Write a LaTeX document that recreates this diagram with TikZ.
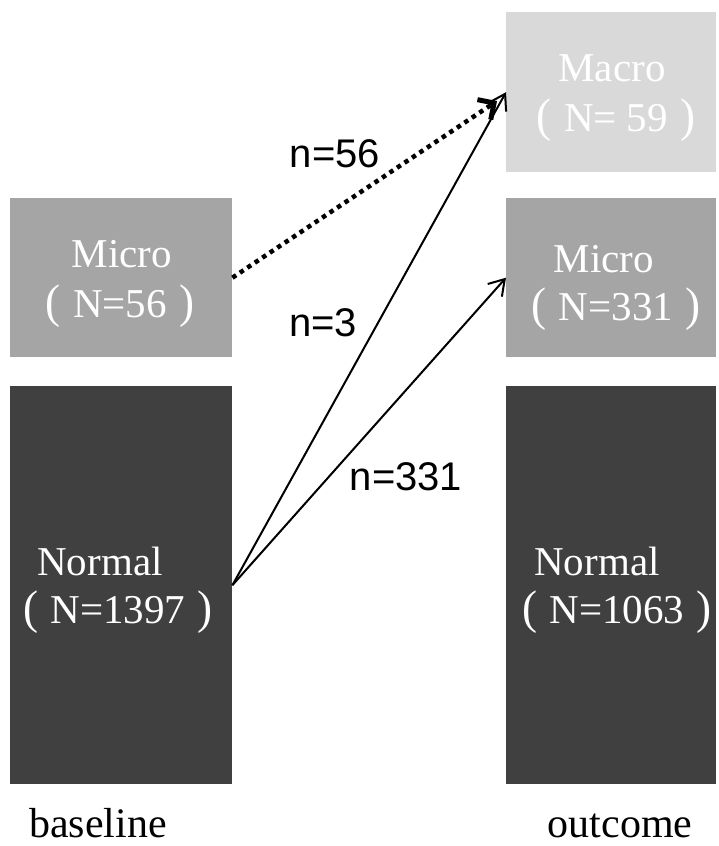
\documentclass[tikz,border=0pt]{standalone}
\usepackage{fontspec}
\setmainfont{Liberation Serif}
\newfontfamily\labelfont{Liberation Sans}
\usetikzlibrary{arrows.meta}
\definecolor{cmicro}{HTML}{A5A5A5}
\definecolor{cmacro}{HTML}{D9D9D9}
\definecolor{cnormal}{HTML}{404040}
\newcommand{\lp}{\scalebox{1.1}[1.15]{(}\hspace{0.3em}}
\newcommand{\rp}{\hspace{0.3em}\scalebox{1.1}[1.15]{)}}
\tikzset{
  box/.style={rectangle, inner sep=0pt, anchor=north west, draw=none},
  boxtxt/.style={text=white, anchor=base, inner sep=0pt, font=\fontsize{41}{41}\selectfont},
  axtxt/.style={text=black, anchor=base, inner sep=0pt, font=\fontsize{42}{42}\selectfont},
  ntxt/.style={text=black, anchor=base, inner sep=0pt, font=\labelfont\fontsize{40}{40}\selectfont},
  flow/.style={line width=2pt, -{Straight Barb[length=15pt,width=19pt,line width=2pt]}},
  dflow/.style={line width=4.5pt, dash pattern=on 4.5pt off 4.5pt, -{Straight Barb[length=12pt,width=24pt,line width=5pt]}}
}
\begin{document}
\begin{tikzpicture}[x=1pt,y=-1pt]
\useasboundingbox (0,0) rectangle (719,846);
% boxes
\node[box, fill=cmicro, minimum width=222pt, minimum height=159pt] (microB) at (10,198) {};
\node[box, fill=cnormal, minimum width=222pt, minimum height=398pt] (normalB) at (10,386) {};
\node[box, fill=cmacro, minimum width=210pt, minimum height=160pt] (macroO) at (506,12) {};
\node[box, fill=cmicro, minimum width=210pt, minimum height=159pt] (microO) at (506,198) {};
\node[box, fill=cnormal, minimum width=210pt, minimum height=398pt] (normalO) at (506,386) {};
% box texts
\node[boxtxt] (tmicroB1) at (122,267) {Micro};
\node[boxtxt] (tmicroB2) at (120,317) {\lp N=56\rp};
\node[boxtxt] (tmacro1) at (612,81) {Macro};
\node[boxtxt] (tmacro2) at (616,131) {\lp N=\hspace{0.25em}59\rp};
\node[boxtxt] (tmicroO1) at (604,272) {Micro};
\node[boxtxt] (tmicroO2) at (616,320) {\lp N=331\rp};
\node[boxtxt] (tnormalB1) at (100,575) {Normal};
\node[boxtxt] (tnormalB2) at (118,623) {\lp N=1397\rp};
\node[boxtxt] (tnormalO1) at (597,575) {Normal};
\node[boxtxt] (tnormalO2) at (617,623) {\lp N=1063\rp};
% axis labels
\node[axtxt] (lbase) at (98,837) {baseline};
\node[axtxt] (lout) at (620,837) {outcome};
% connectors
\coordinate (dend) at (497,101);
\draw[dflow] (microB.east) -- (dend);
\draw[flow] (normalB.east) -- (macroO.west);
\draw[flow] (normalB.east) -- (microO.west);
% flow labels
\node[ntxt] (n56) at (335,167) {n=56};
\node[ntxt] (n3) at (323,336) {n=3};
\node[ntxt] (n331) at (406,490) {n=331};
\end{tikzpicture}
\end{document}
